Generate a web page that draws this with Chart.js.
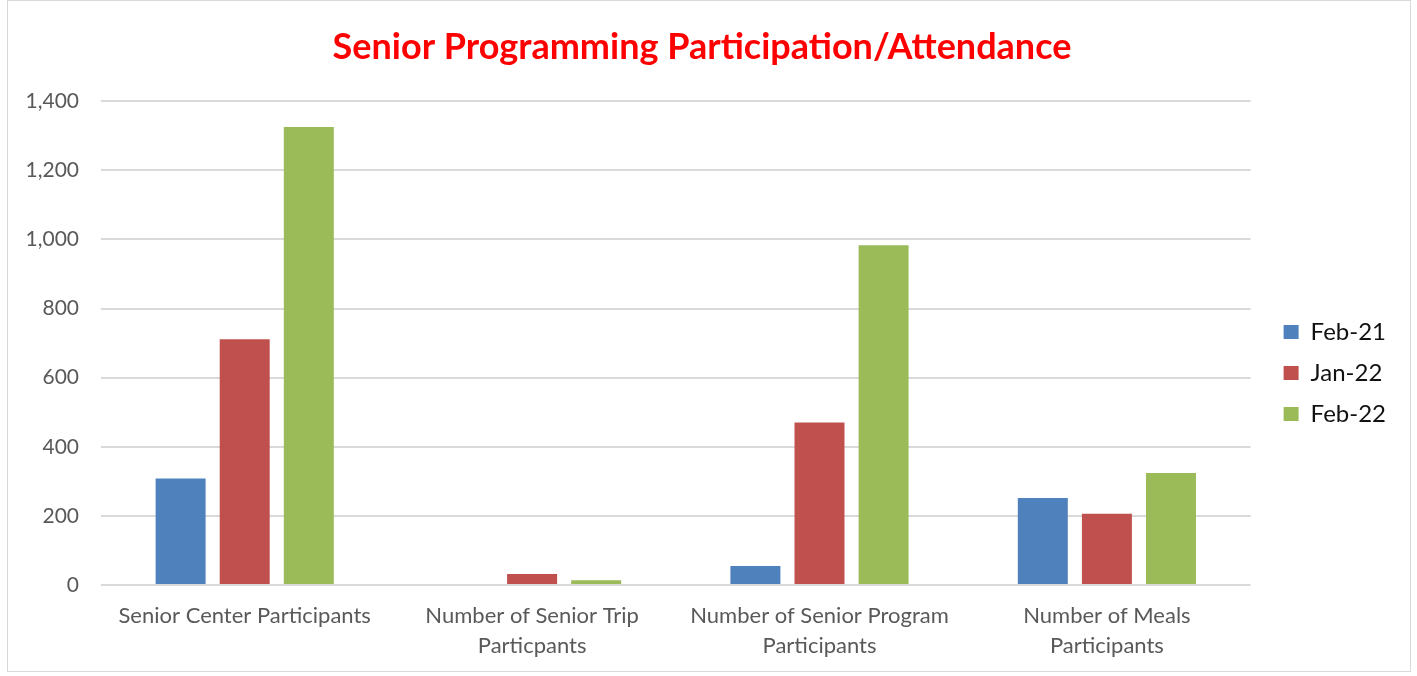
<!DOCTYPE html>
<html>
<head>
<meta charset="utf-8">
<script src="https://cdn.jsdelivr.net/npm/chart.js@4.4.1/dist/chart.umd.min.js"></script>
<style>
  html, body { margin: 0; padding: 0; background: #ffffff; }
  #wrap { position: absolute; left: 7px; top: 0px; width: 1404px; height: 672px; border: 1px solid #d9d9d9; box-sizing: border-box; }
  canvas { display: block; }
</style>
</head>
<body>
<div id="wrap"><canvas id="c" width="1402" height="670"></canvas></div>
<script>
const categories = [
  "Senior Center Participants",
  ["Number of Senior Trip", "Particpants"],
  ["Number of Senior Program", "Participants"],
  ["Number of Meals", "Participants"]
];
const seriesNames = ["Feb-21", "Jan-22", "Feb-22"];
const feb21 = [308, 0, 55, 252];
const jan22 = [711, 32, 470, 206];
const feb22 = [1325, 14, 983, 324];
const colors = ["#4f81bd", "#c0504d", "#9bbb59"];
const yTicks = [0, 200, 400, 600, 800, 1000, 1200, 1400];

const font = "Lato, 'Open Sans', sans-serif";

new Chart(document.getElementById("c"), {
  type: "bar",
  data: {
    labels: categories,
    datasets: [feb21, jan22, feb22].map((d, i) => ({
      label: seriesNames[i],
      data: d,
      backgroundColor: colors[i],
      borderWidth: 0,
      categoryPercentage: 0.669,
      barPercentage: 0.78
    }))
  },
  options: {
    responsive: false,
    animation: false,
    layout: { padding: { left: 0, right: 14, top: 0, bottom: 1 } },
    plugins: {
      title: {
        display: true,
        text: "Senior Programming Participation/Attendance",
        color: "#ff0000",
        font: { family: font, size: 36, weight: "bold" },
        padding: { top: 25, bottom: 32 }
      },
      legend: {
        position: "right",
        align: "start",
        title: { display: true, text: " ", font: { size: 2, lineHeight: 1 }, padding: { top: 300, bottom: 0 } },
        labels: {
          color: "#111111",
          font: { family: font, size: 24 },
          boxWidth: 15,
          boxHeight: 14,
          padding: 17
        }
      },
      tooltip: { enabled: false }
    },
    scales: {
      x: {
        grid: { display: false },
        border: { display: false },
        afterFit: (a) => { a.height = 85; },
        ticks: { color: "#595959", font: { family: font, size: 22, lineHeight: "30px" }, maxRotation: 0, autoSkip: false, padding: 8 }
      },
      y: {
        min: 0,
        max: 1400,
        afterBuildTicks: (axis) => { axis.ticks = yTicks.map(v => ({ value: v })); },
        afterFit: (a) => { a.width = 93; },
        grid: { color: "#d9d9d9", lineWidth: 2, drawTicks: false },
        border: { display: false },
        ticks: {
          color: "#595959",
          font: { family: font, size: 21 },
          padding: 22,
          callback: (v) => v.toLocaleString("en-US")
        }
      },
      y2: {
        position: "right",
        display: true,
        grid: { display: false },
        border: { display: false },
        ticks: { display: false },
        afterFit: (a) => { a.width = 16; }
      }
    }
  }
});
</script>
</body>
</html>
